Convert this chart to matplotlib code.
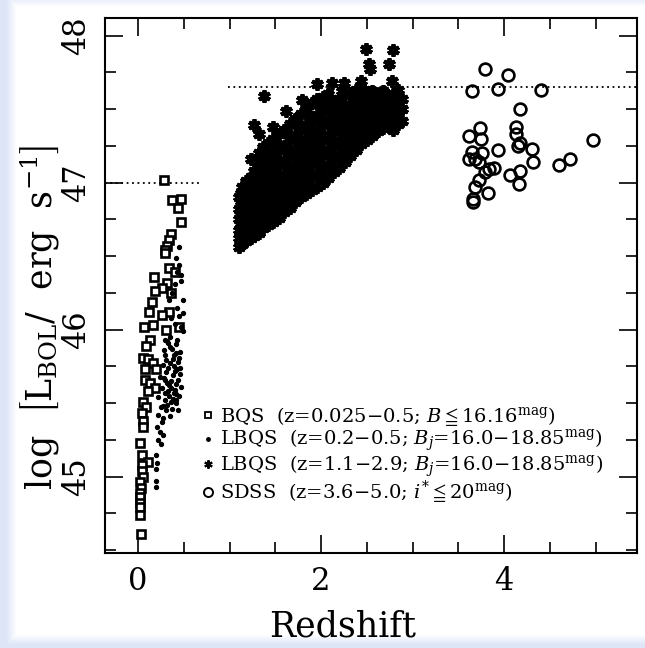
import numpy as np
import matplotlib
matplotlib.use("Agg")
import matplotlib.pyplot as plt
from matplotlib.lines import Line2D
from matplotlib.font_manager import FontProperties

plt.rcParams['font.family'] = ['DejaVu Serif', 'DejaVu Sans']
plt.rcParams['mathtext.fontset'] = 'dejavuserif'

# BQS, open squares
bqs_z = [0.28, 0.37, 0.47, 0.44, 0.47, 0.36, 0.34, 0.32, 0.30, 0.29,
         0.34, 0.18, 0.40, 0.32, 0.26, 0.19, 0.36, 0.15, 0.34, 0.26,
         0.12, 0.45, 0.16, 0.07, 0.31, 0.13, 0.09, 0.06, 0.11, 0.16,
         0.08, 0.20, 0.08, 0.13, 0.19, 0.11, 0.06, 0.09, 0.04, 0.06,
         0.06, 0.02, 0.04, 0.11, 0.04, 0.04, 0.06, 0.02, 0.03, 0.02,
         0.02, 0.02, 0.02, 0.02, 0.03]
bqs_L = [47.02, 46.88, 46.89, 46.83, 46.73, 46.65, 46.61, 46.57, 46.54, 46.52,
         46.42, 46.36, 46.39, 46.32, 46.28, 46.26, 46.25, 46.19, 46.12, 46.10,
         46.12, 46.02, 46.03, 46.02, 46.00, 45.93, 45.89, 45.81, 45.80, 45.77,
         45.73, 45.73, 45.66, 45.64, 45.60, 45.58, 45.51, 45.47, 45.43, 45.38,
         45.34, 45.23, 45.15, 45.10, 45.08, 45.04, 45.00, 44.96, 44.92, 44.89,
         44.86, 44.82, 44.79, 44.74, 44.61]

# LBQS low-z, dots
lbqs_lo_z = [0.45, 0.45, 0.43, 0.47, 0.41, 0.40, 0.37, 0.47, 0.49, 0.34,
             0.43, 0.49, 0.45, 0.36, 0.40, 0.47, 0.49, 0.35, 0.43, 0.32,
             0.41, 0.28, 0.46, 0.35, 0.30, 0.38, 0.44, 0.27, 0.33, 0.40,
             0.46, 0.31, 0.24, 0.30, 0.38, 0.36, 0.42, 0.47, 0.34, 0.26,
             0.33, 0.39, 0.45, 0.22, 0.29, 0.36, 0.42, 0.25, 0.44, 0.31,
             0.22, 0.27, 0.26, 0.21, 0.24, 0.27, 0.22, 0.25, 0.20, 0.21,
             0.20, 0.20, 0.20,
             0.29, 0.33, 0.37, 0.41, 0.45, 0.31, 0.35, 0.39, 0.43, 0.28,
             0.32, 0.36, 0.40, 0.44, 0.30, 0.34, 0.38, 0.42, 0.46, 0.27,
             0.32, 0.37, 0.41, 0.35, 0.39]
lbqs_lo_L = [46.56, 46.44, 46.39, 46.37, 46.49, 46.31, 46.25, 46.33, 46.20, 46.20,
             46.15, 46.11, 46.09, 46.08, 46.04, 46.02, 45.99, 45.95, 45.93, 45.92,
             45.90, 45.86, 45.85, 45.88, 45.83, 45.80, 45.78, 45.76, 45.74, 45.72,
             45.70, 45.71, 45.68, 45.66, 45.69, 45.65, 45.63, 45.61, 45.62, 45.60,
             45.58, 45.57, 45.55, 45.54, 45.52, 45.51, 45.50, 45.47, 45.45, 45.45,
             45.42, 45.40, 45.37, 45.34, 45.30, 45.28, 45.25, 45.22, 45.15, 45.09,
             45.05, 44.97, 44.93,
             45.93, 45.91, 45.87, 45.84, 45.81, 45.79, 45.77, 45.75, 45.73, 45.67,
             45.64, 45.60, 45.59, 45.66, 45.57, 45.55, 45.53, 45.56, 45.74, 45.48,
             45.49, 45.46, 45.52, 45.41, 45.83]

# LBQS high-z, asterisks
lbqs_hi_z = [1.10, 1.10, 1.10, 1.10, 1.10, 1.10,
             1.12, 1.12, 1.12, 1.12, 1.12,
             1.14, 1.14, 1.14, 1.14, 1.14, 1.14,
             1.18, 1.18, 1.18, 1.18, 1.18, 1.18,
             1.20, 1.20, 1.20, 1.20, 1.20,
             1.23, 1.23, 1.23, 1.23, 1.23, 1.23, 1.23,
             1.27, 1.27, 1.27, 1.27, 1.27, 1.27, 1.27,
             1.30, 1.30, 1.30, 1.30, 1.30, 1.30,
             1.32, 1.32, 1.32, 1.32, 1.32, 1.32, 1.32, 1.32,
             1.37, 1.37, 1.37, 1.37, 1.37, 1.37, 1.37, 1.38,
             1.40, 1.40, 1.40, 1.40, 1.40, 1.40,
             1.42, 1.42, 1.42, 1.42, 1.42, 1.42, 1.42,
             1.48, 1.48, 1.48, 1.48, 1.48, 1.48, 1.48, 1.48,
             1.51, 1.51, 1.51, 1.51, 1.51, 1.51,
             1.54, 1.54, 1.54, 1.54, 1.54, 1.54, 1.54,
             1.60, 1.60, 1.60, 1.60, 1.60, 1.60, 1.60, 1.62,
             1.63, 1.63, 1.63, 1.63, 1.63, 1.63,
             1.66, 1.66, 1.66, 1.66, 1.66, 1.66, 1.66,
             1.72, 1.72, 1.72, 1.72, 1.72, 1.72, 1.72,
             1.75, 1.75, 1.75, 1.75, 1.75, 1.75,
             1.78, 1.78, 1.78, 1.78, 1.78, 1.78, 1.78, 1.79,
             1.84, 1.84, 1.84, 1.84, 1.84, 1.84, 1.84,
             1.87, 1.87, 1.87, 1.87, 1.87, 1.87,
             1.90, 1.90, 1.90, 1.90, 1.90, 1.90, 1.90,
             1.96, 1.96, 1.96, 1.96, 1.96, 1.96, 1.96, 1.95,
             1.99, 1.99, 1.99, 1.99, 1.99, 1.99,
             2.02, 2.02, 2.02, 2.02, 2.02, 2.02, 2.02,
             2.08, 2.08, 2.08, 2.08, 2.08, 2.08, 2.08,
             2.11, 2.11, 2.11, 2.11, 2.11, 2.11,
             2.14, 2.14, 2.14, 2.14, 2.14, 2.14, 2.12,
             2.20, 2.20, 2.20, 2.20, 2.20, 2.20,
             2.23, 2.23, 2.23, 2.23, 2.23, 2.23,
             2.26, 2.26, 2.26, 2.26, 2.26, 2.26, 2.25,
             2.32, 2.32, 2.32, 2.32, 2.32, 2.32,
             2.35, 2.35, 2.35, 2.35, 2.35,
             2.38, 2.38, 2.38, 2.38, 2.38, 2.38,
             2.44, 2.44, 2.44, 2.44, 2.44, 2.44,
             2.47, 2.47, 2.47, 2.47, 2.47,
             2.50, 2.50, 2.50, 2.50, 2.50, 2.52, 2.49,
             2.53,
             2.56, 2.56, 2.56, 2.56, 2.56,
             2.59, 2.59, 2.59, 2.59,
             2.62, 2.62, 2.62, 2.62,
             2.68, 2.68, 2.68, 2.68,
             2.71, 2.71, 2.71,
             2.74, 2.74, 2.74, 2.74,
             2.78, 2.78, 2.78, 2.78, 2.77, 2.78,
             2.83, 2.83, 2.83,
             2.84, 2.84, 2.84, 2.84,
             2.88, 2.88, 2.88]
lbqs_hi_L = [46.56, 46.62, 46.68, 46.75, 46.82, 46.90,
             46.60, 46.70, 46.78, 46.85, 46.93,
             46.58, 46.66, 46.73, 46.80, 46.88, 46.97,
             46.60, 46.67, 46.74, 46.83, 46.91, 47.01,
             46.64, 46.72, 46.80, 46.89, 46.98,
             46.62, 46.70, 46.78, 46.86, 46.95, 47.04, 47.16,
             46.64, 46.71, 46.79, 46.88, 46.97, 47.08, 47.39,
             46.69, 46.78, 46.87, 46.96, 47.05, 47.15,
             46.66, 46.74, 46.82, 46.91, 47.00, 47.10, 47.20, 47.33,
             46.69, 46.77, 46.85, 46.94, 47.03, 47.13, 47.24, 47.59,
             46.75, 46.84, 46.92, 47.01, 47.11, 47.21,
             46.71, 46.80, 46.88, 46.97, 47.06, 47.16, 47.27,
             46.73, 46.82, 46.91, 47.00, 47.09, 47.19, 47.30, 47.38,
             46.79, 46.88, 46.96, 47.06, 47.16, 47.26,
             46.76, 46.85, 46.93, 47.02, 47.12, 47.22, 47.33,
             46.80, 46.88, 46.96, 47.05, 47.15, 47.25, 47.36, 47.49,
             46.85, 46.93, 47.02, 47.12, 47.22, 47.33,
             46.83, 46.91, 46.99, 47.08, 47.18, 47.29, 47.40,
             46.87, 46.95, 47.03, 47.12, 47.22, 47.32, 47.43,
             46.91, 46.99, 47.08, 47.18, 47.28, 47.39,
             46.90, 46.98, 47.07, 47.16, 47.25, 47.36, 47.47, 47.56,
             46.92, 47.01, 47.10, 47.19, 47.29, 47.39, 47.50,
             46.97, 47.06, 47.15, 47.25, 47.35, 47.46,
             46.95, 47.04, 47.13, 47.22, 47.32, 47.42, 47.54,
             46.97, 47.06, 47.16, 47.26, 47.36, 47.46, 47.57, 47.67,
             47.03, 47.12, 47.22, 47.33, 47.43, 47.53,
             47.00, 47.09, 47.19, 47.29, 47.39, 47.49, 47.58,
             47.03, 47.12, 47.22, 47.32, 47.42, 47.52, 47.60,
             47.10, 47.19, 47.29, 47.39, 47.49, 47.57,
             47.07, 47.16, 47.25, 47.35, 47.45, 47.54, 47.68,
             47.10, 47.19, 47.28, 47.38, 47.47, 47.57,
             47.16, 47.25, 47.35, 47.44, 47.53, 47.62,
             47.14, 47.23, 47.32, 47.41, 47.50, 47.60, 47.68,
             47.18, 47.27, 47.35, 47.44, 47.53, 47.61,
             47.24, 47.32, 47.40, 47.49, 47.58,
             47.22, 47.30, 47.38, 47.46, 47.55, 47.63,
             47.26, 47.33, 47.41, 47.49, 47.57, 47.69,
             47.31, 47.38, 47.46, 47.54, 47.63,
             47.29, 47.36, 47.44, 47.52, 47.60, 47.81, 47.91,
             47.77,
             47.32, 47.40, 47.48, 47.56, 47.62,
             47.37, 47.45, 47.53, 47.61,
             47.35, 47.43, 47.51, 47.59,
             47.37, 47.46, 47.55, 47.62,
             47.42, 47.48, 47.56,
             47.38, 47.50, 47.58, 47.81,
             47.36, 47.43, 47.52, 47.60, 47.69, 47.90,
             47.44, 47.52, 47.60,
             47.40, 47.48, 47.55, 47.63,
             47.42, 47.50, 47.57]

# SDSS, open circles
sdss_z = [3.79, 4.04, 3.65, 3.93, 4.40, 4.17, 3.73, 3.62, 3.75, 4.13,
          4.13, 4.15, 3.65, 3.76, 3.93, 4.30, 4.97, 3.62, 3.68, 3.72,
          4.31, 4.72, 4.60, 3.89, 3.83, 3.79, 4.06, 4.17, 3.72, 3.68,
          3.82, 4.16, 3.66, 3.66, 4.17]
sdss_L = [47.77, 47.73, 47.62, 47.64, 47.63, 47.50, 47.37, 47.32, 47.30, 47.38,
          47.33, 47.25, 47.21, 47.20, 47.22, 47.23, 47.29, 47.16, 47.16, 47.14,
          47.14, 47.16, 47.12, 47.10, 47.09, 47.07, 47.05, 47.08, 47.02, 46.97,
          46.93, 46.99, 46.89, 46.87, 47.27]

labels = ["BQS  (z=0.025\u22120.5; $B\\leqq$16.16$^{\\rm mag}$)",
          "LBQS  (z=0.2\u22120.5; $B_j$=16.0\u221218.85$^{\\rm mag}$)",
          "LBQS  (z=1.1\u22122.9; $B_j$=16.0\u221218.85$^{\\rm mag}$)",
          "SDSS  (z=3.6\u22125.0; $i^{*}\\leqq$20$^{\\rm mag}$)"]

fig = plt.figure(figsize=(6.45, 6.48), dpi=100)

# light blue slide border
bg = fig.add_axes([0, 0, 1, 1], zorder=-5)
H, W = 648, 645
yy, xx = np.mgrid[0:H, 0:W]
d = np.maximum.reduce([16 - xx, 6 - yy, yy - 634, np.zeros_like(xx)]).astype(float)
t = np.clip(d / 10.0, 0, 1)[..., None]
edge = np.array([0.87, 0.90, 0.97])
img = (1 - t) * np.ones(3) + t * edge
bg.imshow(img, aspect='auto', extent=[0, 1, 0, 1])
bg.axis('off')

ax = fig.add_axes([105 / 645, 1 - 553 / 648, 532 / 645, 535 / 648])

ax.plot([-0.36, 0.7], [47.0, 47.0], ls=(0, (1, 2)), color='k', lw=1.3)
ax.plot([0.98, 5.45], [47.65, 47.65], ls=(0, (1, 2)), color='k', lw=1.3)

ax.plot(bqs_z, bqs_L, ls='none', marker='s', ms=6.2, mfc='white', mec='k', mew=1.9)
ax.plot(lbqs_lo_z, lbqs_lo_L, ls='none', marker='o', ms=2.8, color='k')
ax.plot(lbqs_hi_z, lbqs_hi_L, ls='none', marker=(6, 2, 0), ms=9, color='k', mew=2.8)
ax.plot(sdss_z, sdss_L, ls='none', marker='o', ms=8.5, mfc='none', mec='k', mew=1.9)

ax.set_xlim(-0.36, 5.45)
ax.set_ylim(44.48, 48.12)
ax.set_xticks([0, 2, 4])
ax.set_xticks(np.arange(-0.0, 5.5, 0.5), minor=True)
ax.set_yticks([45, 46, 47, 48])
ax.set_yticks(np.arange(44.5, 48.2, 0.25), minor=True)
ax.tick_params(which='both', direction='in', top=True, right=True, width=1.2)
ax.tick_params(which='major', length=13, labelsize=22)
ax.tick_params(which='minor', length=8)
ax.tick_params(axis='x', pad=9)
ax.tick_params(axis='y', pad=9)
for lab in ax.get_yticklabels():
    lab.set_rotation(90)
    lab.set_va('center')
for s in ax.spines.values():
    s.set_linewidth(1.5)

ax.set_xlabel("Redshift", fontsize=25)
ax.xaxis.set_label_coords(0.447, -0.105)
ax.set_ylabel(r"log $\ \left[\mathrm{L_{BOL}/\ \ erg\ \ s^{-1}}\right]$", fontsize=25)
ax.yaxis.set_label_coords(-0.08, 0.44)

handles = [Line2D([], [], ls='none', marker='s', ms=5, mfc='white', mec='k', mew=1.3),
           Line2D([], [], ls='none', marker='o', ms=2.5, color='k'),
           Line2D([], [], ls='none', marker=(6, 2, 0), ms=6, color='k', mew=1.5),
           Line2D([], [], ls='none', marker='o', ms=6.5, mfc='none', mec='k', mew=1.4)]
ax.legend(handles, labels, loc='lower left', bbox_to_anchor=(0.165, 0.07),
          frameon=False, handlelength=0.6, handletextpad=0.3, labelspacing=0.0,
          borderpad=0, prop=FontProperties(family=['DejaVu Serif', 'DejaVu Sans'], size=14))

fig.savefig("out.png", dpi=100)
